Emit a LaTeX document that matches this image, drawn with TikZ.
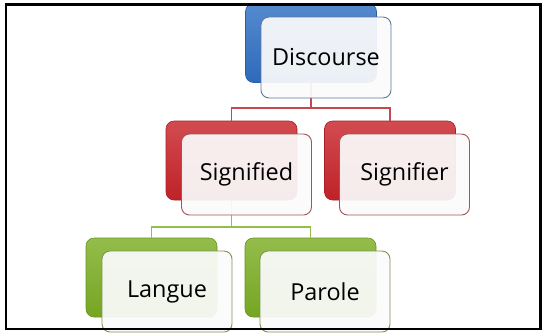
\documentclass[tikz,border=0pt]{standalone}
\usepackage{fontspec}
\setsansfont{Open Sans}
\usetikzlibrary{positioning}
\definecolor{discblue}{RGB}{48,112,196}
\definecolor{signred}{RGB}{200,36,42}
\definecolor{langgreen}{RGB}{124,174,36}
\definecolor{linkred}{RGB}{196,72,78}
\definecolor{linkgreen}{RGB}{148,188,78}

\begin{document}
\begin{tikzpicture}[
    x=1bp, y=-1bp,
    every node/.style={font=\sffamily\fontsize{23.5}{28}\selectfont},
    backbox/.style={rectangle, rounded corners=8bp, minimum width=131bp, minimum height=79bp,
        draw=#1!85!black, line width=0.6bp, top color=#1!82!white, bottom color=#1!95!black},
    frontbox/.style={rectangle, rounded corners=8bp, minimum width=130bp, minimum height=81bp,
        draw=#1!45!gray, line width=0.9bp, fill=white!97!gray, fill opacity=0.93, text opacity=1},
    link/.style={draw=#1, line width=1.8bp},
]
\useasboundingbox (0,0) rectangle (545,333);

% Back boxes
\node[backbox=discblue] (dis) at (311,43) {};
\node[backbox=signred] (sigd) at (231.5,160.5) {};
\node[backbox=signred] (sigr) at (390,160.5) {};
\node[backbox=langgreen] (lang) at (151.5,277.5) {};
\node[backbox=langgreen] (par) at (310.5,277.5) {};

% Connectors
\coordinate (j1) at (311,108);
\coordinate (j2) at (231.5,227);
\draw[link=linkred] (dis.south) -- (j1) -| (sigd.north);
\draw[link=linkred] (j1) -| (sigr.north);
\draw[link=linkgreen] (sigd.south) -- (j2) -| (lang.north);
\draw[link=linkgreen] (j2) -| (par.north);

% Front boxes with labels
\node[frontbox=discblue] (disF) at ([shift={(15,14.5)}]dis) {Discourse};
\node[frontbox=signred] (sigdF) at ([shift={(15,14)}]sigd) {Signified};
\node[frontbox=signred] (sigrF) at ([shift={(14.5,14)}]sigr) {Signifier};
\node[frontbox=langgreen] (langF) at ([shift={(15.5,14)}]lang) {Langue};
\node[frontbox=langgreen] (parF) at ([shift={(14.5,14)}]par) {Parole};

% Frame
\draw[line width=2.6bp] (6,4.5) rectangle (540.5,329);
\end{tikzpicture}
\end{document}
